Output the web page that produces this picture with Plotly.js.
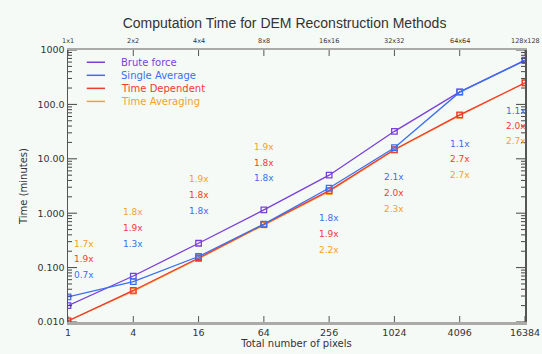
<!DOCTYPE html>
<html>
<head>
<meta charset="utf-8">
<script src="https://cdn.plot.ly/plotly-3.0.1.min.js"></script>
<style>
html,body{margin:0;padding:0;background:#f6faf7;}
#chart{width:542px;height:354px;}
</style>
</head>
<body>
<div id="chart"></div>
<script>
// ---- data ----
var pixels = [1, 4, 16, 64, 256, 1024, 4096, 16384];
var pixelLabels = ['1', '4', '16', '64', '256', '1024', '4096', '16384'];
var gridLabels = ['1x1', '2x2', '4x4', '8x8', '16x16', '32x32', '64x64', '128x128'];
var timeTicks = [0.01, 0.1, 1, 10, 100, 1000];
var timeTickLabels = ['0.010', '0.100', '1.000', '10.00', '100.0', '1000'];

var bruteForce    = [0.020, 0.070, 0.28, 1.15, 5.0, 32, 170, 650];
var singleAverage = [0.029, 0.055, 0.16, 0.63, 2.9, 16, 168, 640];
var timeDependent = [0.0105, 0.038, 0.150, 0.62, 2.6, 14.8, 64, 250];
var timeAveraging = [0.0105, 0.037, 0.146, 0.61, 2.5, 14.5, 63, 248];

// speed-up labels and the time level (minutes) at which each label sits
var speedSingle    = ['0.7x', '1.3x', '1.8x', '1.8x', '1.8x', '2.1x', '1.1x', '1.1x'];
var speedDependent = ['1.9x', '1.9x', '1.8x', '1.8x', '1.9x', '2.0x', '2.7x', '2.0x'];
var speedAveraging = ['1.7x', '1.8x', '1.9x', '1.9x', '2.2x', '2.3x', '2.7x', '2.7x'];
var levelSingle    = [0.073, 0.272, 1.10, 4.37, 0.826, 4.57, 18.5, 75.7];
var levelDependent = [0.144, 0.535, 2.13, 8.5, 0.415, 2.32, 9.77, 40.1];
var levelAveraging = [0.27, 1.07, 4.2, 16.3, 0.21, 1.18, 4.98, 21.2];

var seriesNames = ['Brute force', 'Single Average', 'Time Dependent', 'Time Averaging'];
var seriesColors = ['#7a3fdc', '#3a6ff0', '#f03c32', '#f5a02a'];
var seriesValues = [bruteForce, singleAverage, timeDependent, timeAveraging];

// minor tick positions for the log time axis (2..9 in each decade)
var minorTicks = [];
timeTicks.slice(0, -1).forEach(function (d) {
  for (var m = 2; m <= 9; m++) minorTicks.push(d * m);
});

// ---- geometry of the plot area (for inside tick marks) ----
var W = 542, H = 354, M = {l: 68, r: 17, t: 50, b: 32};
var xRange = [0, Math.log10(16384)], yRange = [-2, 3];
var xDecPerPx = (xRange[1] - xRange[0]) / (W - M.l - M.r);
var yDecPerPx = (yRange[1] - yRange[0]) / (H - M.t - M.b);
var xMin = Math.pow(10, xRange[0]), xMax = Math.pow(10, xRange[1]);
var yMin = Math.pow(10, yRange[0]), yMax = Math.pow(10, yRange[1]);

// ---- traces ----
var traces = [];
[3, 2, 0, 1].forEach(function (i) {
  traces.push({
    x: pixels, y: seriesValues[i], type: 'scatter', mode: 'lines+markers',
    name: seriesNames[i], showlegend: false, hoverinfo: 'skip',
    line: {color: seriesColors[i], width: 1.3},
    marker: {symbol: 'square-open', size: 5.5, color: seriesColors[i], line: {width: 1.3, color: seriesColors[i]}}
  });
});

// inside tick marks (left/right on time axis, bottom/top on pixel axis)
var tyX = [], tyY = [];
function addYTick(v, len) {
  var f = Math.pow(10, len * xDecPerPx);
  tyX.push(xMin, xMin * f, null, xMax / f, xMax, null);
  tyY.push(v, v, null, v, v, null);
}
timeTicks.forEach(function (v) { addYTick(v, 9); });
minorTicks.forEach(function (v) { addYTick(v, 4); });
var txX = [], txY = [];
pixels.forEach(function (v) {
  var f = Math.pow(10, 6 * yDecPerPx);
  txX.push(v, v, null, v, v, null);
  txY.push(yMin, yMin * f, null, yMax / f, yMax, null);
});
traces.push({x: tyX, y: tyY, mode: 'lines', line: {color: '#444', width: 1}, showlegend: false, hoverinfo: 'skip', connectgaps: false});
traces.push({x: txX, y: txY, mode: 'lines', line: {color: '#555', width: 1}, showlegend: false, hoverinfo: 'skip', connectgaps: false});

// ---- annotations ----
var annotations = [];
function addLabels(texts, levels, color) {
  for (var k = 0; k < pixels.length; k++) {
    var a = {
      x: Math.log10(pixels[k]), y: Math.log10(levels[k]), xref: 'x', yref: 'y',
      text: texts[k], showarrow: false,
      font: {family: 'DejaVu Sans', size: 9, color: color},
      xanchor: 'center', yanchor: 'middle'
    };
    if (k === 0) { a.xanchor = 'left'; a.xshift = 4; }
    if (k === pixels.length - 1) { a.xanchor = 'right'; a.xshift = 3; }
    annotations.push(a);
  }
}
addLabels(speedAveraging, levelAveraging, seriesColors[3]);
addLabels(speedDependent, levelDependent, seriesColors[2]);
addLabels(speedSingle, levelSingle, seriesColors[1]);

// top axis labels (grid size)
gridLabels.forEach(function (g, k) {
  annotations.push({x: Math.log10(pixels[k]), xref: 'x', y: 1, yref: 'paper', yanchor: 'bottom',
    yshift: 3, text: g, showarrow: false,
    font: {family: 'DejaVu Sans', size: 6.5, color: '#333'}});
});

// legend (manual, coloured text)
var shapes = [];
var legTop = 0.955, legStep = 0.048;
for (var i = 0; i < seriesNames.length; i++) {
  var yy = legTop - i * legStep;
  shapes.push({type: 'line', xref: 'paper', yref: 'paper', x0: 0.041, x1: 0.081, y0: yy, y1: yy,
    line: {color: seriesColors[i], width: 1.5}});
  annotations.push({xref: 'paper', yref: 'paper', x: 0.112, y: yy, xanchor: 'left', yanchor: 'middle',
    text: seriesNames[i], showarrow: false,
    font: {family: 'DejaVu Sans', size: 10, color: seriesColors[i]}});
}

var axisFont = {family: 'DejaVu Sans', size: 9.5, color: '#333'};
var layout = {
  width: W, height: H,
  paper_bgcolor: '#f6faf7', plot_bgcolor: 'rgba(0,0,0,0)',
  margin: {l: M.l, r: M.r, t: M.t, b: M.b, pad: 0},
  showlegend: false,
  title: {text: 'Computation Time for DEM Reconstruction Methods',
    font: {family: 'Liberation Sans', size: 14, color: '#333'},
    x: 0.525, xanchor: 'center', y: 0.935, yanchor: 'middle', xref: 'container', yref: 'container'},
  xaxis: {
    type: 'log', range: xRange,
    tickmode: 'array', tickvals: pixels, ticktext: pixelLabels,
    ticks: '', mirror: true,
    showline: true, linecolor: '#aaa', linewidth: 2.5, showgrid: false, zeroline: false,
    tickfont: axisFont,
    title: {text: 'Total number of pixels', font: {family: 'DejaVu Sans', size: 10, color: '#333'}, standoff: 2}
  },
  yaxis: {
    type: 'log', range: yRange,
    tickmode: 'array', tickvals: timeTicks, ticktext: timeTickLabels,
    ticks: '', mirror: true,
    showline: true, linecolor: '#555', linewidth: 1.5, showgrid: false, zeroline: false,
    tickfont: axisFont,
    title: {text: 'Time (minutes)', font: {family: 'DejaVu Sans', size: 10, color: '#333'}, standoff: 8}
  },
  annotations: annotations,
  shapes: shapes
};

Plotly.newPlot('chart', traces, layout, {staticPlot: true, displayModeBar: false});
</script>
</body>
</html>
